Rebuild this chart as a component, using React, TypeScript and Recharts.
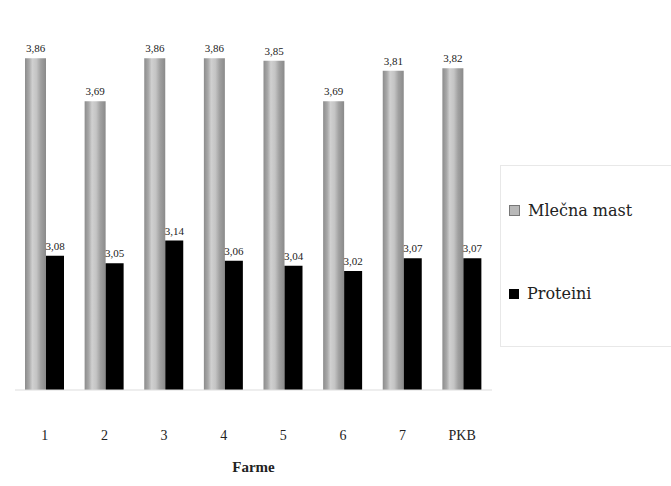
import React from 'react';
import { BarChart, Bar, XAxis, YAxis, LabelList } from 'recharts';

const farms = ['1', '2', '3', '4', '5', '6', '7', 'PKB'];
const milkFat = [3.86, 3.69, 3.86, 3.86, 3.85, 3.69, 3.81, 3.82];
const protein = [3.08, 3.05, 3.14, 3.06, 3.04, 3.02, 3.07, 3.07];
const seriesNames = ['Mlečna mast', 'Proteini'];

const data = farms.map((farm, i) => ({ farm, fat: milkFat[i], protein: protein[i] }));

const fmt = (v: number) => v.toFixed(2).replace('.', ',');
const serif = '"Liberation Serif", "DejaVu Serif", serif';

const entryStyle: React.CSSProperties = {
  position: 'absolute',
  left: 8,
  display: 'flex',
  alignItems: 'center',
  whiteSpace: 'nowrap',
  fontSize: 16,
  color: '#222',
  fontFamily: '"DejaVu Serif", serif',
};

// legend is plain HTML so it can be clipped at the right edge like the original
const LegendBox = () => (
  <div
    style={{
      position: 'absolute',
      left: 500,
      top: 165,
      width: 190,
      height: 180,
      border: '1px solid #e8e8e8',
      background: '#fff',
    }}
  >
    <div style={{ ...entryStyle, top: 35 }}>
      <span style={{ width: 9, height: 9, background: '#b8b8b8', border: '1px solid #777', marginRight: 8 }} />
      <span>{seriesNames[0]}</span>
    </div>
    <div style={{ ...entryStyle, top: 118 }}>
      <span style={{ width: 10, height: 10, background: '#000', marginRight: 8 }} />
      <span>{seriesNames[1]}</span>
    </div>
  </div>
);

export default function App() {
  return (
    <div style={{ position: 'absolute', left: 0, top: 0, width: 671, height: 486, overflow: 'hidden', background: '#fff' }}>
      <BarChart
        width={671}
        height={486}
        data={data}
        margin={{ top: 48, right: 179, bottom: 0, left: 15 }}
        barGap={0}
        barCategoryGap={10}
      >
        <defs>
          <linearGradient id="fatGrad" x1="0" y1="0" x2="1" y2="0">
            <stop offset="0%" stopColor="#8c8c8c" />
            <stop offset="20%" stopColor="#a9a9a9" />
            <stop offset="35%" stopColor="#d0d0d0" />
            <stop offset="55%" stopColor="#c4c4c4" />
            <stop offset="75%" stopColor="#a0a0a0" />
            <stop offset="100%" stopColor="#8a8a8a" />
          </linearGradient>
        </defs>
        <XAxis
          dataKey="farm"
          height={96}
          tickLine={false}
          axisLine={{ stroke: '#dddddd' }}
          tickMargin={34}
          tick={{ fill: '#222', fontSize: 14, fontFamily: serif }}
          label={{ value: 'Farme', position: 'insideBottom', offset: 14, fill: '#222', fontSize: 15, fontFamily: serif, fontWeight: 'bold' }}
        />
        <YAxis hide domain={[2.55, 3.9]} />
        <Bar dataKey="fat" name={seriesNames[0]} fill="url(#fatGrad)" barSize={21} isAnimationActive={false}>
          <LabelList dataKey="fat" position="top" offset={6} formatter={fmt} style={{ fill: '#222', fontSize: 11, fontFamily: serif }} />
        </Bar>
        <Bar dataKey="protein" name={seriesNames[1]} fill="#000000" barSize={18} isAnimationActive={false}>
          <LabelList dataKey="protein" position="top" offset={6} formatter={fmt} style={{ fill: '#222', fontSize: 11, fontFamily: serif }} />
        </Bar>
      </BarChart>
      <LegendBox />
    </div>
  );
}
